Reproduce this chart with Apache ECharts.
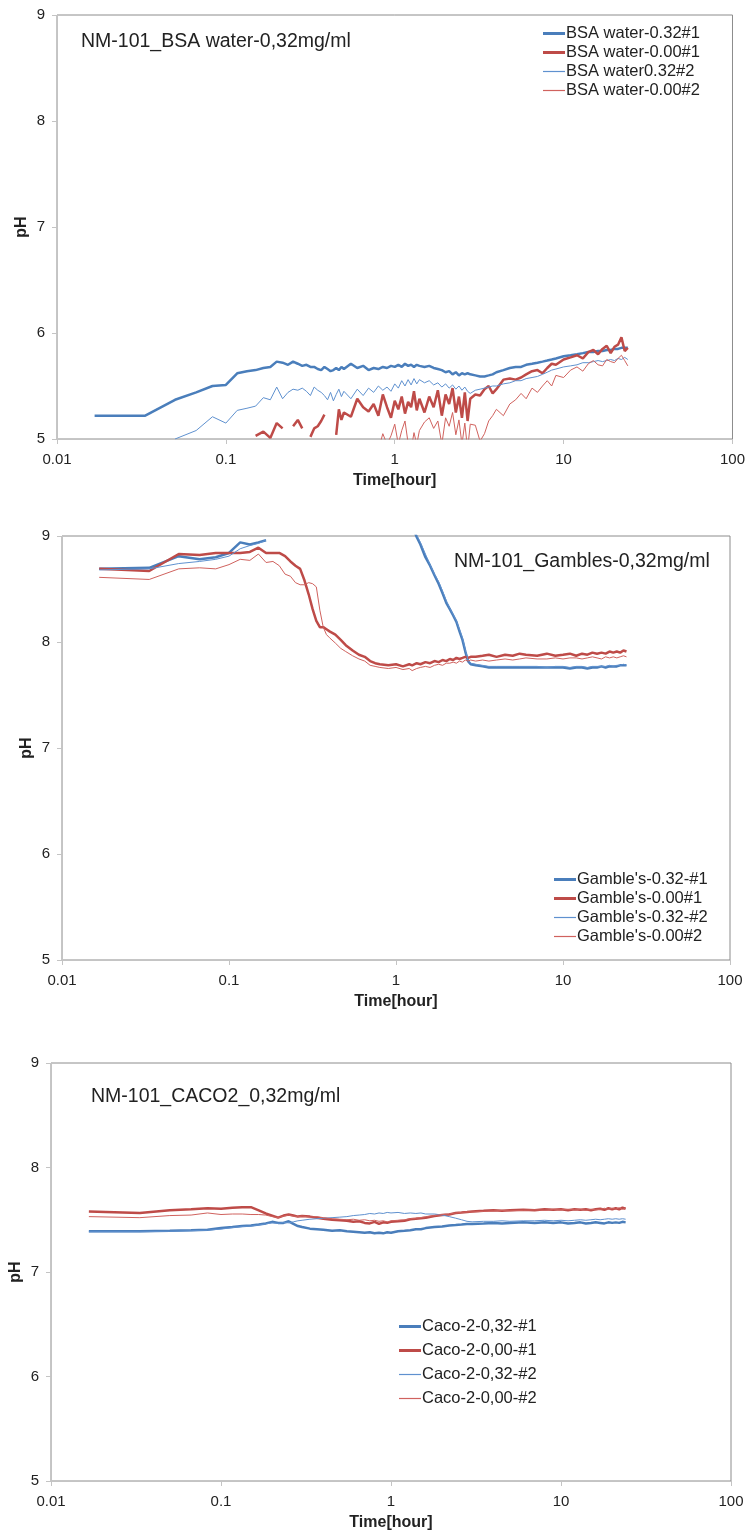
<!DOCTYPE html>
<html>
<head>
<meta charset="utf-8">
<script src="https://cdn.jsdelivr.net/npm/echarts@6/dist/echarts.min.js"></script>
<style>
html,body{margin:0;padding:0;background:#fff;}
#c{width:748px;height:1535px;}
</style>
</head>
<body>
<div id="c"></div>
<script>
// ---------- DATA ----------
const xTickLabels = ['0.01', '0.1', '1', '10', '100'];
const chartTitles = ['NM-101_BSA water-0,32mg/ml', 'NM-101_Gambles-0,32mg/ml', 'NM-101_CACO2_0,32mg/ml'];

// Chart 1: BSA water
const timeBSA = [
  0.0167, 0.0333, 0.05, 0.0667, 0.0833, 0.1, 0.1167, 0.1333, 0.15, 0.1667,
  0.1833, 0.2, 0.2167, 0.2333, 0.25, 0.2667, 0.2833, 0.3, 0.3167, 0.3333,
  0.35, 0.3667, 0.3833, 0.4, 0.4167, 0.4333, 0.45, 0.4667, 0.4833, 0.5,
  0.55, 0.6, 0.65, 0.7, 0.75, 0.8, 0.85, 0.9, 0.95, 1.0,
  1.05, 1.1, 1.15, 1.2, 1.25, 1.3, 1.35, 1.4, 1.5, 1.6,
  1.7, 1.8, 1.9, 2.0, 2.1, 2.2, 2.3, 2.4, 2.5, 2.6,
  2.7, 2.8, 3.0, 3.2, 3.4, 3.6, 3.8, 4.0, 4.4, 4.8,
  5.2, 5.6, 6.0, 6.5, 7, 7.5, 8, 8.5, 9, 10,
  11, 12, 13, 14, 15, 16, 17, 18, 19, 20,
  21, 22, 23, 24
];
const bsa032_1 = [
  5.22, 5.22, 5.37, 5.44, 5.50, 5.51, 5.62, 5.64, 5.65, 5.67,
  5.68, 5.73, 5.72, 5.70, 5.73, 5.71, 5.69, 5.70, 5.68, 5.68,
  5.66, 5.65, 5.68, 5.66, 5.64, 5.65, 5.67, 5.65, 5.68, 5.66,
  5.71, 5.67, 5.69, 5.65, 5.67, 5.66, 5.68, 5.67, 5.69, 5.68,
  5.70, 5.68, 5.71, 5.69, 5.70, 5.68, 5.70, 5.69, 5.68, 5.69,
  5.67, 5.66, 5.65, 5.63, 5.64, 5.61, 5.63, 5.60, 5.62, 5.61,
  5.62, 5.61, 5.60, 5.59, 5.59, 5.60, 5.61, 5.63, 5.65, 5.67,
  5.68, 5.68, 5.70, 5.71, 5.72, 5.73, 5.74, 5.75, 5.76, 5.78,
  5.79, 5.80, 5.81, 5.82, 5.82, 5.83, 5.83, 5.84, 5.84, 5.85,
  5.85, 5.86, 5.86, 5.86
];
const bsa000_1 = [
  null, null, null, null, null, null, null, null, 5.03, 5.07,
  5.01, 5.15, 5.10, null, 5.12, 5.18, 5.10, null, 5.02, 5.10,
  5.12, 5.17, 5.23, null, null, null, 5.04, 5.28, 5.18, 5.25,
  5.21, 5.38, 5.30, 5.26, 5.33, 5.22, 5.42, 5.30, 5.20, 5.36,
  5.28, 5.40, 5.24, 5.35, 5.30, 5.45, 5.27, 5.38, 5.25, 5.40,
  5.30, 5.46, 5.22, 5.42, 5.33, 5.48, 5.25, 5.40, 5.20, 5.44,
  5.17, 5.38, 5.42, 5.41, 5.47, 5.50, 5.43, 5.47, 5.56, 5.57,
  5.56, 5.58, 5.61, 5.64, 5.65, 5.62, 5.67, 5.71, 5.70, 5.75,
  5.77, 5.79, 5.76, 5.82, 5.84, 5.80, 5.85, 5.88, 5.81, 5.87,
  5.89, 5.96, 5.83, 5.86
];
const bsa032_2 = [
  null, null, 5.00, 5.08, 5.21, 5.15, 5.27, 5.29, 5.31, 5.39,
  5.37, 5.49, 5.38, 5.44, 5.47, 5.46, 5.48, 5.45, 5.41, 5.49,
  5.46, 5.44, 5.41, 5.37, 5.44, 5.36, 5.42, 5.47, 5.40, 5.45,
  5.38, 5.47, 5.41, 5.48, 5.44, 5.50, 5.46, 5.49, 5.45, 5.52,
  5.48, 5.55, 5.50, 5.56, 5.51, 5.57, 5.52, 5.56, 5.53, 5.55,
  5.51, 5.53, 5.49, 5.52, 5.48, 5.51, 5.47, 5.50, 5.46, 5.49,
  5.45, 5.43, 5.46, 5.47, 5.48, 5.49, 5.50, 5.50, 5.52, 5.53,
  5.55, 5.55, 5.57, 5.58, 5.59, 5.61, 5.63, 5.65, 5.66, 5.68,
  5.69, 5.70, 5.72, 5.72, 5.73, 5.74, 5.73, 5.74, 5.75, 5.74,
  5.76, 5.75, 5.77, 5.75
];
const bsa000_2 = [
  null, null, null, null, null, null, null, null, null, null,
  null, null, null, null, null, null, null, null, null, null,
  null, null, null, null, null, null, null, null, null, null,
  null, null, null, null, null, 4.90, 5.05, 4.95, 5.03, 5.14,
  4.95, 5.08, 5.17, 4.96, 4.90, 5.06, 4.95, 5.08, 5.16, 5.20,
  5.10, 5.17, 4.95, 5.20, 5.12, 5.25, 5.04, 5.18, 4.95, 5.15,
  4.90, 5.14, 5.13, 4.98, 5.05, 5.17, 5.22, 5.28, 5.22, 5.33,
  5.37, 5.43, 5.38, 5.48, 5.44, 5.50, 5.55, 5.50, 5.60, 5.58,
  5.65, 5.68, 5.64, 5.71, 5.74, 5.70, 5.69, 5.75, 5.73, 5.72,
  5.76, 5.79, 5.74, 5.69
];

// Chart 2: Gamble's
const timeGamble = [
  0.0167, 0.0333, 0.05, 0.0667, 0.0833, 0.1, 0.1167, 0.1333, 0.15, 0.1667,
  0.1833, 0.2, 0.2167, 0.2333, 0.25, 0.2667, 0.2833, 0.3, 0.3167, 0.3333,
  0.35, 0.3667, 0.3833, 0.4, 0.4333, 0.4667, 0.5, 0.55, 0.6, 0.65,
  0.7, 0.75, 0.8, 0.9, 1.0, 1.1, 1.2, 1.25, 1.33, 1.4,
  1.5, 1.6, 1.7, 1.8, 1.9, 2.0, 2.1, 2.2, 2.3, 2.4,
  2.5, 2.6, 2.7, 2.8, 3.0, 3.3, 3.6, 4.0, 4.5, 5,
  5.5, 6, 7, 8, 9, 10, 11, 12, 13, 14,
  15, 16, 17, 18, 19, 20, 21, 22, 23, 24
];
const gamble032_1 = [
  8.69, 8.70, 8.81, 8.78, 8.80, 8.84, 8.94, 8.92, 8.94, 8.96,
  null, null, null, null, null, null, null, null, null, null,
  null, null, null, null, null, null, null, null, null, null,
  null, null, null, null, null, null, null, 9.10, 8.99, 8.92,
  8.80, 8.72, 8.63, 8.55, 8.46, 8.37, 8.31, 8.25, 8.19, 8.10,
  8.02, 7.91, 7.82, 7.79, 7.78, 7.77, 7.76, 7.76, 7.76, 7.76,
  7.76, 7.76, 7.76, 7.76, 7.76, 7.76, 7.75, 7.76, 7.76, 7.75,
  7.76, 7.76, 7.77, 7.76, 7.77, 7.77, 7.77, 7.78, 7.78, 7.78
];
const gamble000_1 = [
  8.69, 8.67, 8.83, 8.82, 8.84, 8.84, 8.84, 8.85, 8.89, 8.84,
  8.84, 8.84, 8.81, 8.76, 8.72, 8.69, 8.58, 8.45, 8.31, 8.20,
  8.14, 8.14, 8.12, 8.10, 8.07, 8.02, 7.97, 7.92, 7.88, 7.86,
  7.82, 7.80, 7.79, 7.78, 7.79, 7.77, 7.79, 7.78, 7.80, 7.79,
  7.81, 7.80, 7.82, 7.81, 7.83, 7.82, 7.84, 7.83, 7.85, 7.84,
  7.85, 7.86, 7.85, 7.86, 7.86, 7.87, 7.88, 7.86, 7.88, 7.87,
  7.89, 7.88, 7.87, 7.89, 7.87, 7.88, 7.89, 7.87, 7.89, 7.88,
  7.90, 7.89, 7.90, 7.89, 7.91, 7.90, 7.91, 7.90, 7.92, 7.91
];
const gamble032_2 = [
  8.68, 8.69, 8.74, 8.76, 8.78, 8.81, 8.88, 8.91, 8.93, 8.96,
  null, null, null, null, null, null, null, null, null, null,
  null, null, null, null, null, null, null, null, null, null,
  null, null, null, null, null, null, null, 9.12, 9.01, 8.94,
  8.83, 8.73, 8.64, 8.57, 8.48, 8.39, 8.32, 8.26, 8.20, 8.12,
  8.04, 7.93, 7.83, 7.80, 7.79, 7.78, 7.77, 7.77, 7.77, 7.77,
  7.77, 7.77, 7.77, 7.76, 7.77, 7.77, 7.76, 7.77, 7.77, 7.76,
  7.77, 7.77, 7.77, 7.77, 7.78, 7.77, 7.78, 7.78, 7.79, 7.78
];
const gamble000_2 = [
  8.61, 8.59, 8.69, 8.70, 8.69, 8.73, 8.78, 8.77, 8.83, 8.75,
  8.76, 8.72, 8.64, 8.62, 8.56, 8.54, 8.54, 8.56, 8.55, 8.52,
  8.30, 8.14, 8.07, 8.04, 7.99, 7.94, 7.91, 7.87, 7.84, 7.82,
  7.78, 7.77, 7.76, 7.75, 7.76, 7.74, 7.75, 7.73, 7.75, 7.76,
  7.77, 7.76, 7.78, 7.79, 7.78, 7.80, 7.80, 7.81, 7.80, 7.82,
  7.81, 7.83, 7.82, 7.83, 7.82, 7.83, 7.82, 7.83, 7.84, 7.83,
  7.84, 7.85, 7.84, 7.84, 7.85, 7.84, 7.85, 7.85, 7.84, 7.85,
  7.86, 7.85, 7.84, 7.86, 7.85, 7.86, 7.85, 7.86, 7.87, 7.86
];

// Chart 3: Caco-2
const timeCaco = [
  0.0167, 0.0333, 0.05, 0.0667, 0.0833, 0.1, 0.1167, 0.1333, 0.15, 0.1667,
  0.1833, 0.2, 0.2167, 0.2333, 0.25, 0.2667, 0.2833, 0.3, 0.3333, 0.3667,
  0.4, 0.45, 0.5, 0.55, 0.6, 0.65, 0.7, 0.75, 0.8, 0.85,
  0.9, 0.95, 1.0, 1.1, 1.2, 1.3, 1.4, 1.5, 1.6, 1.8,
  2.0, 2.2, 2.4, 2.6, 2.8, 3.0, 3.5, 4, 4.5, 5,
  6, 7, 8, 9, 10, 11, 12, 13, 14, 15,
  16, 17, 18, 19, 20, 21, 22, 23, 24
];
const caco032_1 = [
  7.39, 7.39, 7.395, 7.40, 7.405, 7.42, 7.43, 7.44, 7.445, 7.455,
  7.465, 7.48, 7.47, 7.47, 7.485, 7.46, 7.44, 7.43, 7.415, 7.41,
  7.405, 7.395, 7.40, 7.39, 7.385, 7.38, 7.375, 7.38, 7.37, 7.375,
  7.37, 7.38, 7.375, 7.39, 7.395, 7.40, 7.41, 7.41, 7.42, 7.43,
  7.435, 7.445, 7.45, 7.455, 7.46, 7.46, 7.465, 7.47, 7.465, 7.47,
  7.475, 7.47, 7.475, 7.47, 7.475, 7.465, 7.47, 7.475, 7.465, 7.47,
  7.475, 7.47, 7.465, 7.475, 7.47, 7.475, 7.47, 7.48, 7.475
];
const caco000_1 = [
  7.58, 7.565, 7.59, 7.60, 7.61, 7.605, 7.615, 7.62, 7.62, 7.59,
  7.56, 7.54, 7.52, 7.54, 7.55, 7.54, 7.53, 7.535, 7.53, 7.52,
  7.51, 7.50, 7.495, 7.49, 7.48, 7.485, 7.47, 7.465, 7.48, 7.46,
  7.475, 7.47, 7.48, 7.485, 7.49, 7.505, 7.51, 7.515, 7.52, 7.535,
  7.545, 7.55, 7.565, 7.57, 7.575, 7.58, 7.585, 7.59, 7.585, 7.59,
  7.595, 7.59, 7.60, 7.595, 7.60, 7.59, 7.60, 7.595, 7.60, 7.59,
  7.60, 7.605, 7.595, 7.61, 7.60, 7.61, 7.60, 7.615, 7.605
];
const caco032_2 = [
  7.385, 7.385, 7.39, 7.395, 7.40, 7.41, 7.425, 7.435, 7.44, 7.45,
  7.46, 7.47, 7.465, 7.475, 7.47, 7.48, 7.49, 7.495, 7.505, 7.51,
  7.515, 7.52, 7.525, 7.53, 7.54, 7.545, 7.55, 7.56, 7.555, 7.565,
  7.56, 7.57, 7.565, 7.57, 7.56, 7.565, 7.56, 7.565, 7.555, 7.555,
  7.545, 7.53, 7.515, 7.50, 7.485, 7.48, 7.485, 7.485, 7.49, 7.485,
  7.49, 7.49, 7.495, 7.49, 7.495, 7.49, 7.495, 7.50, 7.495, 7.50,
  7.505, 7.50, 7.505, 7.51, 7.505, 7.51, 7.505, 7.51, 7.505
];
const caco000_2 = [
  7.53, 7.52, 7.54, 7.545, 7.565, 7.55, 7.555, 7.555, 7.55, 7.55,
  7.545, 7.53, 7.52, 7.535, 7.545, 7.535, 7.53, 7.535, 7.525, 7.53,
  7.52, 7.51, 7.505, 7.50, 7.505, 7.495, 7.50, 7.49, 7.495, 7.485,
  7.49, 7.48, 7.49, 7.495, 7.50, 7.51, 7.515, 7.52, 7.53, 7.54,
  7.55, 7.555, 7.565, 7.57, 7.575, 7.575, 7.58, 7.585, 7.59, 7.585,
  7.59, 7.595, 7.59, 7.60, 7.595, 7.60, 7.595, 7.60, 7.59, 7.60,
  7.595, 7.60, 7.61, 7.60, 7.61, 7.60, 7.615, 7.60, 7.61
];

// ---------- STYLE / LAYOUT ----------
const FONT = 'Liberation Sans, Arial, sans-serif';
const BLUE = '#4A7EBB', RED = '#BE4B48', BLUE2 = '#5F91CF', RED2 = '#D0625E';
const THICK = 2.5, THIN = 1;

const panels = [
  { grid: { left: 57, top: 15, width: 677, height: 424 }, time: timeBSA,
    names: ['BSA water-0.32#1', 'BSA water-0.00#1', 'BSA water0.32#2', 'BSA water-0.00#2'],
    values: [bsa032_1, bsa000_1, bsa032_2, bsa000_2],
    title: { left: 81, top: 32 }, legend: { left: 543, top: 24, itemGap: 0 } },
  { grid: { left: 62, top: 536, width: 668, height: 424 }, time: timeGamble,
    names: ["Gamble's-0.32-#1", "Gamble's-0.00#1", "Gamble's-0.32-#2", "Gamble's-0.00#2"],
    values: [gamble032_1, gamble000_1, gamble032_2, gamble000_2],
    title: { left: 454, top: 552 }, legend: { left: 554, top: 870, itemGap: 0 } },
  { grid: { left: 51, top: 1063, width: 680, height: 418 }, time: timeCaco,
    names: ['Caco-2-0,32-#1', 'Caco-2-0,00-#1', 'Caco-2-0,32-#2', 'Caco-2-0,00-#2'],
    values: [caco032_1, caco000_1, caco032_2, caco000_2],
    title: { left: 91, top: 1087 }, legend: { left: 399, top: 1317, itemGap: 5 } }
];
const seriesColors = [BLUE, RED, BLUE2, RED2];
const seriesWidths = [THICK, THICK, THIN, THIN];
const iconThick = 'path://M0,0H22V3H0Z';
const iconThin = 'path://M0,0H22V1.2H0Z';

function pairs(t, v) {
  if (t.length !== v.length) console.error('length mismatch', t.length, v.length);
  return t.map((x, i) => [x, (v[i] === null || v[i] === undefined) ? '-' : v[i]]);
}
function tickLabel(val) {
  const k = Math.round(Math.log10(val)) + 2;
  return xTickLabels[k] !== undefined ? xTickLabels[k] : '';
}

const option = {
  animation: false,
  backgroundColor: '#fff',
  textStyle: { fontFamily: FONT },
  grid: [], xAxis: [], yAxis: [], series: [], legend: [], title: []
};

panels.forEach((p, gi) => {
  option.grid.push(Object.assign({ show: true, borderColor: '#8c8c8c', borderWidth: 1, backgroundColor: 'transparent', containLabel: false }, p.grid));
  option.xAxis.push({
    gridIndex: gi, type: 'log', logBase: 10, min: 0.01, max: 100,
    axisLine: { show: true, lineStyle: { color: '#c4c4c4', width: 1 } },
    axisTick: { show: true, length: 5, lineStyle: { color: '#c4c4c4' } },
    minorTick: { show: false }, splitLine: { show: false },
    axisLabel: { margin: 13, fontSize: 15, color: '#222', fontFamily: FONT, formatter: tickLabel },
    name: 'Time[hour]', nameLocation: 'middle', nameGap: 34, nameMoveOverlap: false,
    nameTextStyle: { fontSize: 16, fontWeight: 'bold', color: '#222', fontFamily: FONT }
  });
  option.yAxis.push({
    gridIndex: gi, type: 'value', min: 5, max: 9, interval: 1,
    axisLine: { show: true, lineStyle: { color: '#c4c4c4', width: 1 } },
    axisTick: { show: true, length: 5, lineStyle: { color: '#c4c4c4' } },
    splitLine: { show: false },
    axisLabel: { margin: 12, fontSize: 15, color: '#222', fontFamily: FONT },
    name: 'pH', nameLocation: 'middle', nameGap: 27, nameMoveOverlap: false,
    nameTextStyle: { fontSize: 16, fontWeight: 'bold', color: '#222', fontFamily: FONT }
  });
  option.title.push({
    text: chartTitles[gi], left: p.title.left, top: p.title.top, padding: 0,
    textStyle: { fontSize: 19.5, fontWeight: 'normal', color: '#222', fontFamily: FONT }
  });
  option.legend.push({
    orient: 'vertical', left: p.legend.left, top: p.legend.top, itemGap: p.legend.itemGap,
    itemWidth: 22, itemHeight: 14, padding: 0, symbolKeepAspect: true,
    selectedMode: false,
    itemStyle: { borderWidth: 0 },
    textStyle: { fontSize: 16.5, lineHeight: 19, color: '#222', fontFamily: FONT, padding: [0, 0, 0, -4] },
    data: p.names.map((n, k) => ({ name: n, icon: k < 2 ? iconThick : iconThin }))
  });
  p.values.forEach((vals, k) => {
    option.series.push({
      name: p.names[k], type: 'line', xAxisIndex: gi, yAxisIndex: gi,
      data: pairs(p.time, vals), showSymbol: false, symbol: 'none',
      connectNulls: false, clip: true,
      lineStyle: { color: seriesColors[k], width: seriesWidths[k] },
      itemStyle: { color: seriesColors[k] },
      emphasis: { disabled: true }
    });
  });
});

const chart = echarts.init(document.getElementById('c'), null, { renderer: 'canvas', width: 748, height: 1535 });
chart.setOption(option);
</script>
</body>
</html>
